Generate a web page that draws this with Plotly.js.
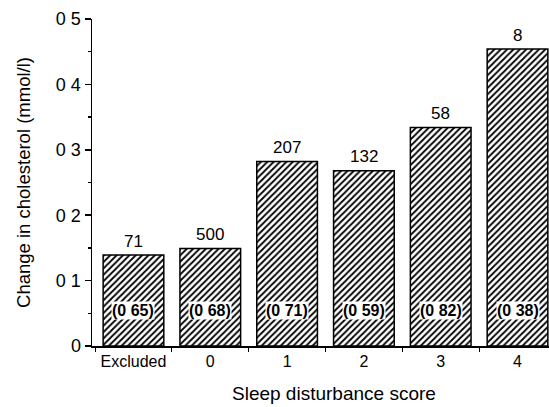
<!DOCTYPE html>
<html><head><meta charset="utf-8">
<script src="https://cdn.plot.ly/plotly-3.0.1.min.js"></script>
<style>html,body{margin:0;padding:0;background:#fff}</style>
</head><body><div id="chart" style="width:549px;height:407px"></div>
<script>
const categories = ['Excluded','0','1','2','3','4'];
const changes = [0.139, 0.149, 0.282, 0.268, 0.334, 0.454];
const counts = ['71','500','207','132','58','8'];
const inner = ['(0 65)','(0 68)','(0 71)','(0 59)','(0 82)','(0 38)'];
const yTickVals = [0, 0.1, 0.2, 0.3, 0.4, 0.5];
const yTickText = ['0','0 1','0 2','0 3','0 4','0 5'];
const innerY = 0.055;

const xs = categories.map((c,i)=>i);
const font = 'Arial, "Liberation Sans", sans-serif';
const narrow = '"Liberation Sans Narrow", "Arial Narrow", Arial, sans-serif';

const annotations = [];
xs.forEach((x,i)=>{
  annotations.push({x:x, y:changes[i], xref:'x', yref:'y', text:counts[i], showarrow:false,
    yanchor:'middle', yshift:14, font:{family:narrow, size:17, color:'#000'}});
  annotations.push({x:x, y:innerY, xref:'x', yref:'y', text:'<b>'+inner[i]+'</b>', showarrow:false,
    yanchor:'middle', bgcolor:'#fff', borderpad:0, font:{family:narrow, size:16, color:'#000'}});
});
annotations.push({xref:'paper', yref:'paper', x:0.53, y:-0.145, xanchor:'center', yanchor:'middle',
  text:'Sleep disturbance score', showarrow:false, font:{family:font, size:19, color:'#000'}});

Plotly.newPlot('chart', [{
  type:'bar', x:xs, y:changes, width:0.79,
  marker:{color:'#fff', line:{color:'#000', width:1.5},
    pattern:{shape:'/', fgcolor:'#000', bgcolor:'#fff', size:4.5, solidity:0.4}},
  hoverinfo:'none'
}], {
  width:549, height:407, margin:{l:92, r:0, t:19, b:61},
  paper_bgcolor:'#fff', plot_bgcolor:'#fff', showlegend:false,
  xaxis:{range:[-0.54, 5.41], tickvals:xs, ticktext:categories, ticks:'', showgrid:false, zeroline:false,
    showline:true, linecolor:'#000', linewidth:1.5,
    minor:{ticks:'outside', tick0:-0.5, dtick:1, ticklen:4, tickcolor:'#000', showgrid:false},
    tickfont:{family:font, size:16, color:'#000'}},
  yaxis:{range:[0,0.5], tickvals:yTickVals, ticktext:yTickText, ticks:'outside', ticklen:6, tickwidth:1.5, tickcolor:'#000',
    showgrid:false, zeroline:false, showline:true, linecolor:'#000', linewidth:1.5,
    minor:{ticks:'outside', dtick:0.05, tick0:0, ticklen:3, tickcolor:'#000', showgrid:false},
    tickfont:{family:font, size:18, color:'#000'},
    title:{text:'Change in cholesterol (mmol/l)', standoff:20, font:{family:font, size:18.5, color:'#000'}}},
  annotations:annotations
}, {staticPlot:true});
</script></body></html>
